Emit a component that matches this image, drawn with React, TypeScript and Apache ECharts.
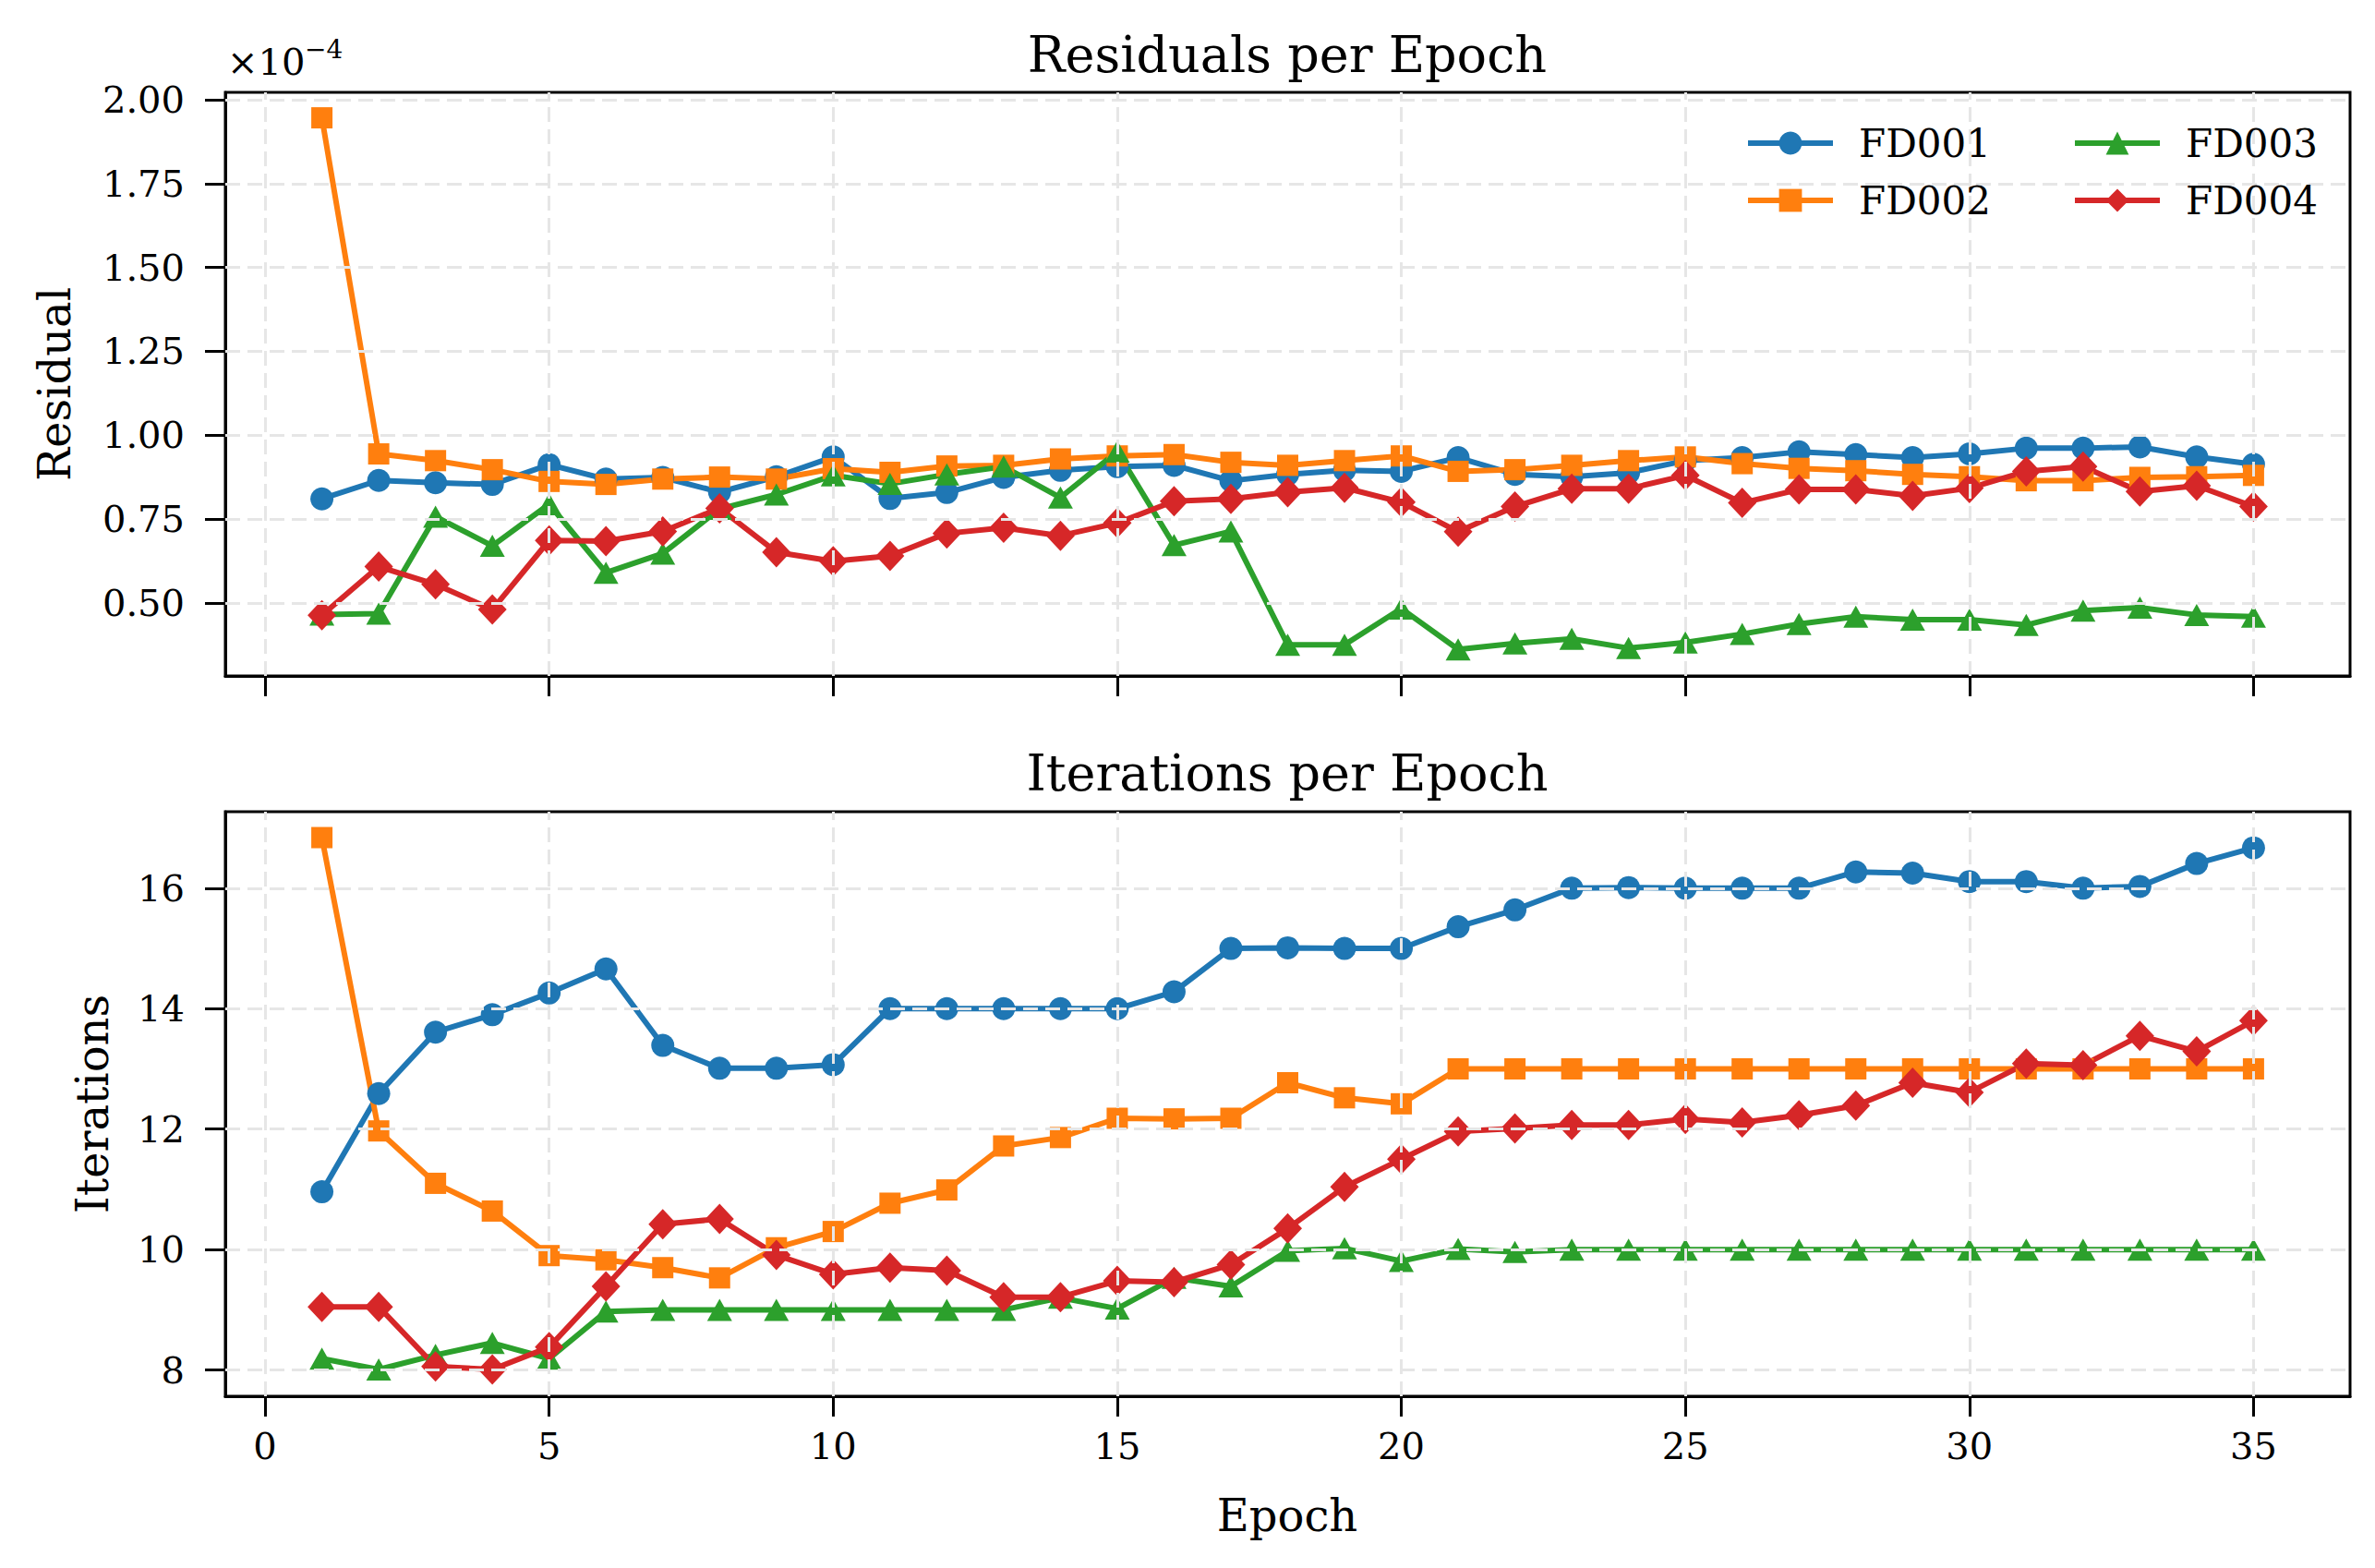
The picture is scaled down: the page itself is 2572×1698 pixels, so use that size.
import React, { useEffect, useRef } from "react";
import * as echarts from "echarts";

// ---------------- data ----------------
const epochs = [
  1, 2, 3, 4, 5, 6, 7, 8, 9, 10, 11, 12, 13, 14, 15, 16, 17, 18, 19, 20, 21, 22, 23, 24, 25,
  26, 27, 28, 29, 30, 31, 32, 33, 34, 35,
];
const seriesNames = ["FD001", "FD002", "FD003", "FD004"];

// Residuals in units of 1e-4
const residualFD001 = [
  0.81, 0.865, 0.858, 0.853, 0.912, 0.869, 0.874, 0.83, 0.876, 0.935, 0.811, 0.829, 0.874, 0.895,
  0.906, 0.91, 0.864, 0.883, 0.895, 0.892, 0.933, 0.883, 0.876, 0.888, 0.924, 0.933, 0.95, 0.942,
  0.933, 0.944, 0.961, 0.961, 0.965, 0.935, 0.913,
];
const residualFD002 = [
  1.946, 0.944, 0.924, 0.897, 0.862, 0.853, 0.869, 0.875, 0.869, 0.9, 0.889, 0.908, 0.91, 0.929,
  0.938, 0.942, 0.919, 0.91, 0.924, 0.938, 0.892, 0.897, 0.91, 0.924, 0.935, 0.915, 0.901, 0.894,
  0.883, 0.876, 0.864, 0.864, 0.874, 0.876, 0.88,
];
const residualFD003 = [
  0.465, 0.468, 0.757, 0.67, 0.794, 0.59, 0.647, 0.78, 0.823, 0.88, 0.855, 0.883, 0.906, 0.814,
  0.951, 0.672, 0.713, 0.375, 0.375, 0.483, 0.361, 0.379, 0.393, 0.365, 0.382, 0.407, 0.437, 0.459,
  0.45, 0.45, 0.434, 0.477, 0.486, 0.464, 0.459,
];
const residualFD004 = [
  0.463, 0.608, 0.555, 0.48, 0.686, 0.684, 0.713, 0.782, 0.651, 0.624, 0.64, 0.707, 0.724, 0.7,
  0.738, 0.803, 0.81, 0.83, 0.843, 0.8, 0.712, 0.787, 0.84, 0.84, 0.88, 0.798, 0.838, 0.838, 0.819,
  0.842, 0.892, 0.906, 0.832, 0.849, 0.787,
];

const iterFD001 = [
  10.96, 12.59, 13.61, 13.9, 14.26, 14.66, 13.39, 13.01, 13.01, 13.07, 14.0, 14.0, 14.0, 14.0, 14.0,
  14.28, 15.0, 15.01, 15.0, 15.0, 15.36, 15.64, 16.0, 16.01, 16.0, 16.0, 16.0, 16.27, 16.25, 16.11,
  16.11, 16.0, 16.03, 16.41, 16.67,
];
const iterFD002 = [
  16.84, 11.97, 11.1, 10.64, 9.9, 9.83, 9.7, 9.53, 10.03, 10.3, 10.77, 10.99, 11.72, 11.86, 12.18,
  12.17, 12.18, 12.77, 12.52, 12.42, 13.0, 13.0, 13.0, 13.0, 13.0, 13.0, 13.0, 13.0, 13.0, 13.0,
  13.0, 13.0, 13.0, 13.0, 13.0,
];
const iterFD003 = [
  8.19, 8.01, 8.25, 8.45, 8.19, 8.97, 9.0, 9.0, 9.0, 9.0, 9.0, 9.0, 9.0, 9.2, 9.02, 9.53, 9.39,
  9.98, 10.02, 9.81, 10.01, 9.96, 10.0, 10.0, 10.0, 10.0, 10.0, 10.0, 10.0, 10.0, 10.0, 10.0, 10.0,
  10.0, 10.0,
];
const iterFD004 = [
  9.05, 9.05, 8.06, 8.01, 8.38, 9.39, 10.42, 10.51, 9.91, 9.59, 9.7, 9.65, 9.21, 9.21, 9.48, 9.46,
  9.75, 10.35, 11.04, 11.5, 11.96, 12.01, 12.07, 12.07, 12.17, 12.11, 12.23, 12.39, 12.77, 12.61,
  13.09, 13.06, 13.55, 13.29, 13.8,
];

const xTicks = [0, 5, 10, 15, 20, 25, 30, 35];
const residualTicks = [0.5, 0.75, 1.0, 1.25, 1.5, 1.75, 2.0];
const iterTicks = [8, 10, 12, 14, 16];

// ---------------- styles ----------------
const FONT = "DejaVu Serif";
const colors = ["#1f77b4", "#ff7f0e", "#2ca02c", "#d62728"];
const symbols = ["circle", "rect", "triangle", "diamond"];
const symbolSizes: any[] = [25, 23, [27, 24], [31, 33]];
const LINE_W = 6;

const GL = 244;
const GW = 2301;
const G1T = 100;
const G1H = 632;
const G2T = 879;
const G2H = 633;

function pairs(ys: number[]) {
  return epochs.map((e, i) => [e, ys[i]]);
}

const App: React.FC = () => {
  const ref = useRef<HTMLDivElement>(null);

  useEffect(() => {
    if (!ref.current) return;
    const chart = echarts.init(ref.current, undefined, { renderer: "svg" });

    const residualSets = [residualFD001, residualFD002, residualFD003, residualFD004];
    const iterSets = [iterFD001, iterFD002, iterFD003, iterFD004];

    const gridLineStyle = { color: "#e6e6e6", width: 3, type: [16, 8] as any };

    const xAxisCommon = (gi: number, showLabels: boolean) => ({
      type: "value",
      gridIndex: gi,
      min: -0.7,
      max: 36.7,
      splitLine: { show: false },
      axisLine: { show: true, onZero: false, lineStyle: { color: "#000", width: 3 } },
      axisTick: {
        show: true,
        customValues: xTicks,
        length: 22,
        inside: false,
        lineStyle: { color: "#000", width: 3 },
      },
      axisLabel: {
        show: showLabels,
        customValues: xTicks,
        margin: 34,
        fontFamily: FONT,
        fontSize: 40,
        color: "#000",
      },
    });

    const yAxisCommon = (gi: number, min: number, max: number, ticks: number[], fmt: (v: number) => string) => ({
      type: "value",
      gridIndex: gi,
      min,
      max,
      splitLine: { show: false },
      axisLine: { show: true, onZero: false, lineStyle: { color: "#000", width: 3 } },
      axisTick: {
        show: true,
        customValues: ticks,
        length: 22,
        inside: false,
        lineStyle: { color: "#000", width: 3 },
      },
      axisLabel: {
        show: true,
        customValues: ticks,
        margin: 44,
        fontFamily: FONT,
        fontSize: 40,
        color: "#000",
        formatter: (v: number) => fmt(v),
      },
    });

    const gridSeries = (gi: number, yTicks: number[], anyData: number[]) => ({
      name: "_grid" + gi,
      type: "line",
      xAxisIndex: gi,
      yAxisIndex: gi,
      data: pairs(anyData),
      symbol: "none",
      lineStyle: { opacity: 0 },
      silent: true,
      z: 1,
      markLine: {
        silent: true,
        symbol: "none",
        label: { show: false },
        lineStyle: gridLineStyle,
        emphasis: { disabled: true },
        data: [
          ...xTicks.map((v) => ({ xAxis: v })),
          ...yTicks.map((v) => ({ yAxis: v })),
        ],
      },
    });

    const dataSeries = (gi: number, sets: number[][]) =>
      sets.map((ys, i) => ({
        name: seriesNames[i],
        type: "line",
        xAxisIndex: gi,
        yAxisIndex: gi,
        data: pairs(ys),
        symbol: symbols[i],
        symbolSize: symbolSizes[i],
        showSymbol: true,
        color: colors[i],
        lineStyle: { color: colors[i], width: LINE_W },
        itemStyle: { color: colors[i] },
        emphasis: { disabled: true },
        z: 2,
      }));

    const legendCommon = {
      orient: "vertical",
      top: 134,
      itemWidth: 92,
      itemHeight: 31,
      itemGap: 20,
      padding: 0,
      z: 10,
      selectedMode: false,
      lineStyle: { width: LINE_W },
      textStyle: {
        fontFamily: FONT,
        fontSize: 42,
        lineHeight: 42,
        color: "#000",
        padding: [0, 0, 0, 23],
      },
    };

    const option: any = {
      animation: false,
      backgroundColor: "#fff",
      textStyle: { fontFamily: FONT },
      grid: [
        { left: GL, top: G1T, width: GW, height: G1H, show: true, borderColor: "#000", borderWidth: 3, backgroundColor: "transparent" },
        { left: GL, top: G2T, width: GW, height: G2H, show: true, borderColor: "#000", borderWidth: 3, backgroundColor: "transparent" },
      ],
      xAxis: [xAxisCommon(0, false), xAxisCommon(1, true)],
      yAxis: [
        yAxisCommon(0, 0.282, 2.022, residualTicks, (v) => v.toFixed(2)),
        yAxisCommon(1, 7.565, 17.27, iterTicks, (v) => String(Math.round(v))),
      ],
      legend: [
        { ...legendCommon, left: 1890, data: [seriesNames[0], seriesNames[1]] },
        { ...legendCommon, left: 2244, data: [seriesNames[2], seriesNames[3]] },
      ],
      series: [
        gridSeries(0, residualTicks, residualFD001),
        gridSeries(1, iterTicks, iterFD001),
        ...dataSeries(0, residualSets),
        ...dataSeries(1, iterSets),
      ],
      graphic: [
        {
          type: "text",
          x: 1394,
          y: 59,
          style: { text: "Residuals per Epoch", fontFamily: FONT, fontSize: 54, fill: "#000", align: "center", verticalAlign: "middle" },
        },
        {
          type: "text",
          x: 1394,
          y: 837,
          style: { text: "Iterations per Epoch", fontFamily: FONT, fontSize: 54, fill: "#000", align: "center", verticalAlign: "middle" },
        },
        {
          type: "text",
          x: 1394,
          y: 1641,
          style: { text: "Epoch", fontFamily: FONT, fontSize: 48, fill: "#000", align: "center", verticalAlign: "middle" },
        },
        {
          type: "text",
          x: 59,
          y: G1T + G1H / 2,
          rotation: Math.PI / 2,
          style: { text: "Residual", fontFamily: FONT, fontSize: 48, fill: "#000", align: "center", verticalAlign: "middle" },
        },
        {
          type: "text",
          x: 100,
          y: G2T + G2H / 2,
          rotation: Math.PI / 2,
          style: { text: "Iterations", fontFamily: FONT, fontSize: 48, fill: "#000", align: "center", verticalAlign: "middle" },
        },
        {
          type: "text",
          x: 246,
          y: 67,
          style: { text: "×10", fontFamily: FONT, fontSize: 40, fill: "#000", align: "left", verticalAlign: "middle" },
        },
        {
          type: "text",
          x: 330,
          y: 53,
          style: { text: "−4", fontFamily: FONT, fontSize: 28, fill: "#000", align: "left", verticalAlign: "middle" },
        },
      ],
    };

    chart.setOption(option);
    return () => chart.dispose();
  }, []);

  return (
    <div
      ref={ref}
      style={{ position: "absolute", left: 0, top: 0, width: 2572, height: 1698, background: "#fff" }}
    />
  );
};

export default App;
